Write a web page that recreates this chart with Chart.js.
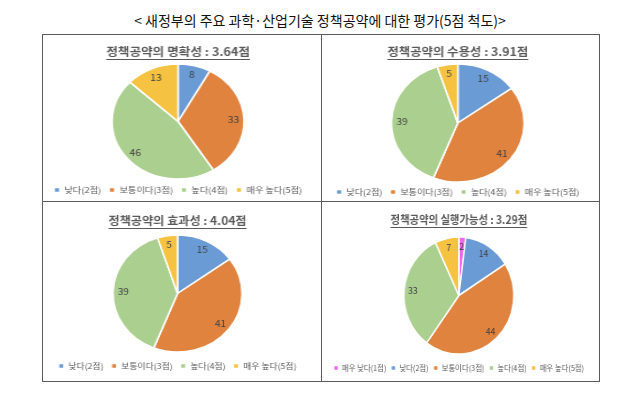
<!DOCTYPE html>
<html>
<head>
<meta charset="utf-8">
<script src="https://cdn.jsdelivr.net/npm/chart.js@4.4.0/dist/chart.umd.min.js"></script>
<style>
  body { margin: 0; background: #fff; width: 640px; height: 396px; overflow: hidden; position: relative;
         font-family: 'Noto Sans CJK KR', 'Noto Sans', sans-serif; }
  #heading { position: absolute; left: 0; top: 9px; width: 640px; text-align: center;
             font-size: 14px; line-height: 22px; color: #111; }
  #frame { position: absolute; left: 42px; top: 34px; width: 556px; height: 346px; border: 1px solid #5a5a5a; }
  .vline { position: absolute; left: 321px; top: 34px; width: 1px; height: 347px; background: #5a5a5a; }
  .hline { position: absolute; left: 42px; top: 201px; width: 557px; height: 1px; background: #5a5a5a; }
  canvas { position: absolute; }
</style>
</head>
<body>
<div id="heading">&lt; 새정부의 주요 과학·산업기술 정책공약에 대한 평가(5점 척도)&gt;</div>
<div id="frame"></div>
<div class="vline"></div>
<div class="hline"></div>
<canvas id="clarity"></canvas>
<canvas id="acceptance"></canvas>
<canvas id="effectiveness"></canvas>
<canvas id="feasibility"></canvas>
<script>
// data
const labels4 = ['낮다(2점)', '보통이다(3점)', '높다(4점)', '매우 높다(5점)'];
const labels5 = ['매우 낮다(1점)', '낮다(2점)', '보통이다(3점)', '높다(4점)', '매우 높다(5점)'];
const clarity = [8, 33, 46, 13];
const acceptance = [15, 41, 39, 5];
const effectiveness = [15, 41, 39, 5];
const feasibility = [2, 14, 44, 33, 7];
const titles = ['정책공약의 명확성 : 3.64점', '정책공약의 수용성 : 3.91점',
                '정책공약의 효과성 : 4.04점', '정책공약의 실행가능성 : 3.29점'];

const COLORS4 = ['#6a9bd4', '#e0833f', '#aacf8f', '#f5c241'];
const COLORS5 = ['#ef66ef', ...COLORS4];
const FONT = "'Noto Sans CJK KR', 'Noto Sans', sans-serif";
const TEXT = '#595959';
const TITLE_SIZE = 11;
const LABEL_SIZE = 9;

Chart.defaults.font.family = FONT;

// cell box, pie centre/radii and text rows, all in page px relative to the cell
const panels = {
    clarity:       { x: 42,  y: 34,  w: 279, h: 167, cx: 136, cy: 87.5, rx: 66,   ry: 57.5, yT: 18, yL: 156, f: 8, p: 7 },
    acceptance:    { x: 321, y: 34,  w: 278, h: 167, cx: 137, cy: 89,   rx: 66.5, ry: 59,   yT: 18, yL: 158, f: 8, p: 7 },
    effectiveness: { x: 42,  y: 201, w: 279, h: 180, cx: 135.5, cy: 92.5, rx: 64.5, ry: 58.5, yT: 20, yL: 165, f: 8, p: 7 },
    feasibility:   { x: 321, y: 201, w: 278, h: 180, cx: 138, cy: 94.5, rx: 55,   ry: 58.5, yT: 19, yL: 167, f: 7.8, p: 5 }
};

const valueLabels = {
    id: 'valueLabels',
    afterDatasetsDraw(chart) {
        const ctx = chart.ctx;
        const meta = chart.getDatasetMeta(0);
        const vals = chart.data.datasets[0].data;
        ctx.save();
        ctx.font = LABEL_SIZE + 'px ' + FONT;
        ctx.fillStyle = '#404040';
        ctx.textAlign = 'center';
        ctx.textBaseline = 'middle';
        meta.data.forEach((arc, i) => {
            const p = arc.getProps(['x', 'y', 'startAngle', 'endAngle', 'outerRadius'], true);
            const mid = (p.startAngle + p.endAngle) / 2;
            ctx.fillText(String(vals[i]), p.x + Math.cos(mid) * p.outerRadius * 0.84,
                                          p.y + Math.sin(mid) * p.outerRadius * 0.84);
        });
        ctx.restore();
    }
};

function underline(title, yT) {
    return {
        id: 'underline',
        afterDraw(chart) {
            const ctx = chart.ctx;
            const tb = chart.titleBlock;
            ctx.save();
            ctx.font = 'bold ' + TITLE_SIZE + 'px ' + FONT;
            const w = ctx.measureText(title).width;
            const mx = (tb.left + tb.right) / 2;
            const y = Math.round(yT + TITLE_SIZE * 0.62) + 0.5;
            ctx.strokeStyle = TEXT;
            ctx.lineWidth = 1;
            ctx.beginPath();
            ctx.moveTo(mx - w / 2, y);
            ctx.lineTo(mx + w / 2, y);
            ctx.stroke();
            ctx.restore();
        }
    };
}

function makePie(id, title, labels, data, colors) {
    const c = panels[id];
    const sx = c.rx / c.ry;            // the reference pies are stretched sideways
    const cw = Math.round(c.w / sx);
    const H = c.h + 12;
    const canvas = document.getElementById(id);
    canvas.width = cw;
    canvas.height = H;
    canvas.style.left = c.x + 'px';
    canvas.style.top = c.y + 'px';
    canvas.style.width = c.w + 'px';
    canvas.style.height = H + 'px';

    const ccx = c.cx / sx;
    const padL = Math.max(0, 2 * ccx - cw);
    const padR = Math.max(0, cw - 2 * ccx);
    const padB = H - c.yL - c.f / 2 - 10;
    const legTop = c.yL - c.p - c.f / 2;
    const lh = TITLE_SIZE * 1.2;
    const tTop = c.yT - lh / 2;
    const tBot = (2 * c.cy - legTop) - tTop - lh;

    new Chart(canvas, {
        type: 'pie',
        data: {
            labels,
            datasets: [{
                data, backgroundColor: colors, borderColor: '#ffffff', borderWidth: 1.5,
                radius: c.ry, clip: false
            }]
        },
        options: {
            responsive: false,
            animation: false,
            devicePixelRatio: 1,
            layout: { padding: { left: padL, right: padR, top: 0, bottom: padB } },
            plugins: {
                title: {
                    display: true, text: title, color: TEXT,
                    font: { size: TITLE_SIZE, weight: 'bold' },
                    padding: { top: tTop, bottom: tBot }
                },
                legend: {
                    position: 'bottom',
                    labels: { boxWidth: 5, boxHeight: 5, padding: c.p, color: TEXT, font: { size: c.f } }
                },
                tooltip: { enabled: false }
            }
        },
        plugins: [valueLabels, underline(title, c.yT)]
    });
}

makePie('clarity', titles[0], labels4, clarity, COLORS4);
makePie('acceptance', titles[1], labels4, acceptance, COLORS4);
makePie('effectiveness', titles[2], labels4, effectiveness, COLORS4);
makePie('feasibility', titles[3], labels5, feasibility, COLORS5);
</script>
</body>
</html>
